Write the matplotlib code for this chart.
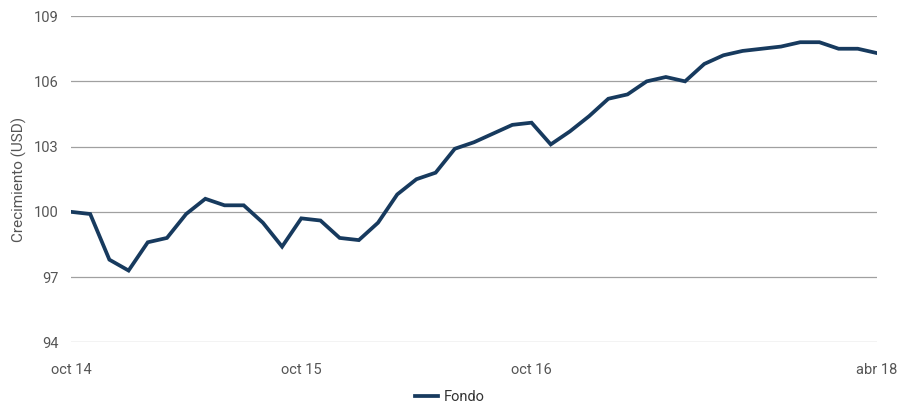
import matplotlib
matplotlib.use("Agg")
import matplotlib.pyplot as plt

months = list(range(43))
fondo = [100.0, 99.9, 97.8, 97.3, 98.6, 98.8, 99.9, 100.6, 100.3, 100.3,
         99.5, 98.4, 99.7, 99.6, 98.8, 98.7, 99.5, 100.8, 101.5, 101.8,
         102.9, 103.2, 103.6, 104.0, 104.1, 103.1, 103.7, 104.4, 105.2, 105.4,
         106.0, 106.2, 106.0, 106.8, 107.2, 107.4, 107.5, 107.6, 107.8, 107.8,
         107.5, 107.5, 107.3]
xtick_pos = [0, 12, 24, 42]
xtick_labels = ["oct 14", "oct 15", "oct 16", "abr 18"]
yticks = [94, 97, 100, 103, 106, 109]

plt.rcParams['font.family'] = ['Roboto', 'DejaVu Sans']
fig = plt.figure(figsize=(9, 4.03), dpi=100)
ax = fig.add_axes([0.0789, 0.1506, 0.8955, 0.8094])
ax.plot(months, fondo, color="#173a5e", lw=2.7, label="Fondo", solid_joinstyle="miter")
ax.set_xlim(0, 42)
ax.set_ylim(94, 109)
ax.set_yticks(yticks)
ax.set_xticks(xtick_pos)
ax.set_xticklabels(xtick_labels)
ax.grid(axis="y", color="#a0a0a0", lw=0.9)
ax.set_axisbelow(True)
for s in ax.spines.values():
    s.set_visible(False)
ax.tick_params(length=0, colors="#555555", labelsize=10.5)
ax.tick_params(axis="x", pad=15)
ax.tick_params(axis="y", pad=9)
ax.set_ylabel("Crecimiento (USD)", color="#555555", fontsize=11, labelpad=5)
leg = fig.legend(loc="lower center", bbox_to_anchor=(0.5, -0.035), frameon=False,
                 fontsize=10.5, handlelength=1.6, handletextpad=0.4)
for t in leg.get_texts():
    t.set_color("#333333")
fig.savefig("out.png", dpi=100)
